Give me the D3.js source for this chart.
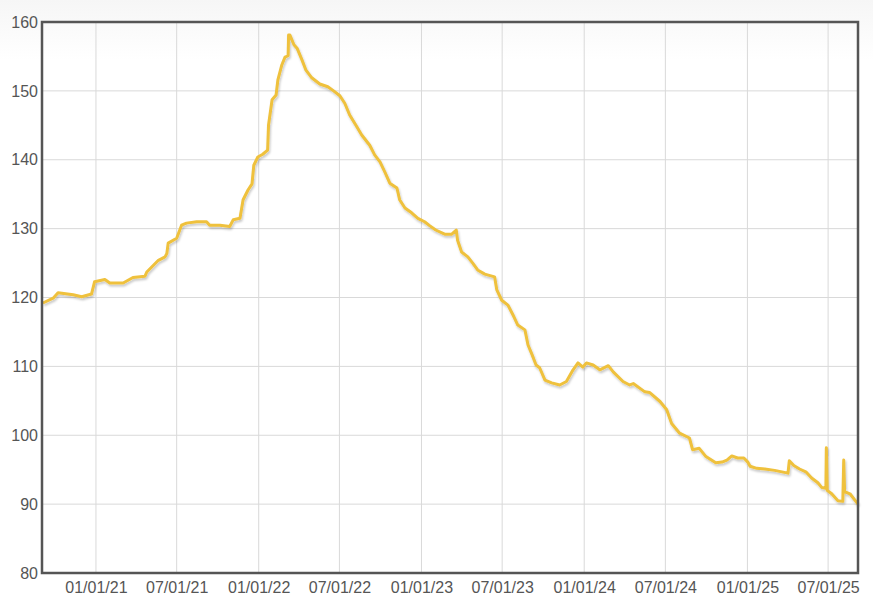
<!DOCTYPE html>
<html>
<head>
<meta charset="utf-8">
<script src="https://cdn.jsdelivr.net/npm/d3@7"></script>
<style>
  html, body { margin: 0; padding: 0; }
  body { width: 873px; height: 604px; background: linear-gradient(#f6f6f6 0px, #ffffff 60px); }
  #chart svg { display: block; }
  .tick text { font-family: "Liberation Sans", Arial, sans-serif; font-size: 16px; fill: #555; }
</style>
</head>
<body>
<div id="chart"></div>
<script>
// series
const dates = [
  "2020-09-04","2020-09-27","2020-10-08","2020-11-11","2020-11-30","2020-12-22","2020-12-29",
  "2021-01-21","2021-02-01","2021-03-03","2021-03-25","2021-04-21","2021-04-25","2021-05-21",
  "2021-06-05","2021-06-09","2021-06-12","2021-07-01","2021-07-12","2021-07-23","2021-08-15",
  "2021-09-06","2021-09-13","2021-10-06","2021-10-28","2021-11-05","2021-11-20","2021-11-27",
  "2021-12-08","2021-12-17","2021-12-21","2021-12-30","2022-01-10","2022-01-21","2022-01-23",
  "2022-01-31","2022-02-09","2022-02-13","2022-02-22","2022-03-01","2022-03-08","2022-03-09",
  "2022-03-12","2022-03-21","2022-03-28","2022-04-08","2022-04-17","2022-04-30","2022-05-18",
  "2022-06-05","2022-06-18","2022-07-02","2022-07-13","2022-07-24","2022-08-07","2022-08-20",
  "2022-09-07","2022-09-18","2022-09-30","2022-10-11","2022-10-22","2022-11-07","2022-11-13",
  "2022-11-25","2022-12-10","2022-12-24","2023-01-08","2023-01-20","2023-02-02","2023-02-22",
  "2023-03-10","2023-03-20","2023-03-23","2023-04-01","2023-04-15","2023-04-26","2023-05-07",
  "2023-05-23","2023-06-14","2023-06-19","2023-06-30","2023-07-14","2023-07-25","2023-08-05",
  "2023-08-21","2023-08-28","2023-09-06","2023-09-15","2023-09-23","2023-10-05","2023-10-20",
  "2023-11-07","2023-11-22","2023-12-07","2023-12-18","2023-12-29","2024-01-06","2024-01-21",
  "2024-02-05","2024-02-24","2024-03-06","2024-03-28","2024-04-12","2024-04-20","2024-05-16",
  "2024-05-27","2024-06-19","2024-07-04","2024-07-15","2024-08-02","2024-08-24","2024-08-31",
  "2024-09-15","2024-09-30","2024-10-22","2024-11-05","2024-11-16","2024-11-27","2024-12-10",
  "2024-12-24","2025-01-02","2025-01-07","2025-01-22","2025-02-09","2025-03-03","2025-04-02",
  "2025-04-05","2025-04-15","2025-04-28","2025-05-12","2025-05-25","2025-06-08","2025-06-17",
  "2025-06-26","2025-06-27","2025-06-29","2025-07-09","2025-07-23","2025-08-03","2025-08-05",
  "2025-08-07","2025-08-19","2025-09-06"
];
const prices = [
  119.2, 119.9, 120.7, 120.4, 120.1, 120.5, 122.3,
  122.6, 122.1, 122.1, 122.9, 123.1, 123.7, 125.4,
  125.9, 126.4, 127.9, 128.6, 130.5, 130.8, 131.0,
  131.0, 130.5, 130.5, 130.3, 131.3, 131.5, 134.2,
  135.6, 136.5, 139.2, 140.4, 140.8, 141.4, 145.0,
  148.7, 149.4, 151.6, 153.8, 154.9, 155.1, 158.1,
  158.1, 156.7, 156.2, 154.5, 153.0, 151.9, 151.0,
  150.6, 150.0, 149.3, 148.2, 146.5, 145.0, 143.6,
  142.1, 140.7, 139.7, 138.2, 136.6, 135.9, 134.2,
  133.0, 132.3, 131.5, 131.0, 130.4, 129.8, 129.2,
  129.2, 129.8, 128.3, 126.6, 125.9, 125.0, 124.0,
  123.4, 123.0, 121.1, 119.6, 118.9, 117.5, 116.0,
  115.3, 113.1, 111.7, 110.2, 109.8, 108.0, 107.6,
  107.3, 107.8, 109.5, 110.5, 109.9, 110.5, 110.2,
  109.5, 110.1, 109.2, 107.8, 107.3, 107.5, 106.3,
  106.2, 104.9, 103.7, 101.7, 100.3, 99.6, 97.9,
  98.1, 96.9, 96.0, 96.1, 96.4, 97.0, 96.7,
  96.7, 96.1, 95.5, 95.2, 95.1, 94.9, 94.5,
  96.3, 95.6, 95.1, 94.7, 93.8, 93.1, 92.4,
  92.3, 98.2, 92.0, 91.5, 90.5, 90.4, 96.4,
  91.8, 91.5, 90.0
];
const yTicks = [80, 90, 100, 110, 120, 130, 140, 150, 160];
const xTicks = ["2021-01-01","2021-07-01","2022-01-01","2022-07-01","2023-01-01",
                "2023-07-01","2024-01-01","2024-07-01","2025-01-01","2025-07-01"];
const xDomain = ["2020-09-02", "2025-09-06"];

const parse = d3.utcParse("%Y-%m-%d");
const data = dates.map((d, i) => ({date: parse(d), value: prices[i]}));

const margin = {top: 22, right: 15, bottom: 31, left: 42};
const width = 873 - margin.left - margin.right;
const height = 604 - margin.top - margin.bottom;

const svg = d3.select("#chart").append("svg")
    .attr("width", 873)
    .attr("height", 604);

// soft shadow under the line
const defs = svg.append("defs");
const shadow = defs.append("filter").attr("id", "shadow")
    .attr("x", "-5%").attr("y", "-5%").attr("width", "110%").attr("height", "110%");
shadow.append("feDropShadow")
    .attr("dx", 1).attr("dy", 2).attr("stdDeviation", 1)
    .attr("flood-color", "#000").attr("flood-opacity", 0.22);

const g = svg.append("g")
    .attr("transform", "translate(" + margin.left + "," + margin.top + ")");

const x = d3.scaleUtc().domain(xDomain.map(parse)).range([0, width]);
const y = d3.scaleLinear().domain([80, 160]).range([height, 0]);

// grid
g.append("g")
    .selectAll("line")
    .data(xTicks.map(parse))
    .enter().append("line")
    .attr("x1", d => x(d)).attr("x2", d => x(d))
    .attr("y1", 0).attr("y2", height)
    .attr("stroke", "#d9d9d9").attr("stroke-width", 1);

g.append("g")
    .selectAll("line")
    .data(yTicks)
    .enter().append("line")
    .attr("x1", 0).attr("x2", width)
    .attr("y1", d => y(d)).attr("y2", d => y(d))
    .attr("stroke", "#d9d9d9").attr("stroke-width", 1);

// axes
const yAxis = g.append("g")
    .call(d3.axisLeft(y).tickValues(yTicks).tickSize(0).tickPadding(4));
yAxis.select(".domain").remove();

const xAxis = g.append("g")
    .attr("transform", "translate(0," + height + ")")
    .call(d3.axisBottom(x).tickValues(xTicks.map(parse)).tickSize(0).tickPadding(9)
        .tickFormat(d3.utcFormat("%m/%d/%y")));
xAxis.select(".domain").remove();

// line
const line = d3.line()
    .x(d => x(d.date))
    .y(d => y(d.value));

g.append("path")
    .datum(data)
    .attr("fill", "none")
    .attr("stroke", "#efc13c")
    .attr("stroke-width", 3)
    .attr("stroke-linejoin", "round")
    .attr("filter", "url(#shadow)")
    .attr("d", line);

// frame
g.append("rect")
    .attr("x", 0).attr("y", 0)
    .attr("width", width).attr("height", height)
    .attr("fill", "none")
    .attr("stroke", "#555")
    .attr("stroke-width", 2.5);
</script>
</body>
</html>
